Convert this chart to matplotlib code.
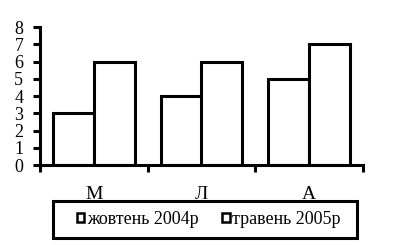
import matplotlib.pyplot as plt
import numpy as np
from matplotlib.patches import Patch, Rectangle
from matplotlib.ticker import FixedLocator

plt.rcParams['font.family'] = ['Liberation Serif', 'DejaVu Serif']

categories = ["М", "Л", "А"]
oct_2004 = [3, 4, 5]
may_2005 = [6, 6, 7]
series_names = ["жовтень 2004р", "травень 2005р"]

fig = plt.figure(figsize=(3.98, 2.45), dpi=100)
ax = fig.add_axes([40 / 398, 1 - 165 / 245, 323 / 398, 138 / 245])

x = np.arange(len(categories))
w = 0.38
lw = 2.2
ax.bar(x - w / 2, oct_2004, w, facecolor='white', edgecolor='black', linewidth=lw)
ax.bar(x + w / 2, may_2005, w, facecolor='white', edgecolor='black', linewidth=lw)

ax.set_xlim(-0.5, len(categories) - 0.5)
ax.set_ylim(0, 8)
ax.set_yticks(range(0, 9))
ax.tick_params(axis='y', direction='out', length=5, width=lw, pad=7, labelsize=13)

ax.set_xticks(x)
ax.set_xticklabels(categories)
ax.tick_params(axis='x', which='major', length=0, pad=15, labelsize=14)
ax.xaxis.set_minor_locator(FixedLocator(np.arange(-0.5, len(categories), 1.0)))
ax.tick_params(axis='x', which='minor', direction='out', length=5, width=lw)

for side in ('top', 'right'):
    ax.spines[side].set_visible(False)
for side in ('left', 'bottom'):
    ax.spines[side].set_linewidth(lw)

# legend box drawn separately so its size matches the original
fig.add_artist(Rectangle((53 / 398, 1 - 238 / 245), 304 / 398, 37 / 245,
                         transform=fig.transFigure, facecolor='white',
                         edgecolor='black', linewidth=2.2))

handles = [Patch(facecolor='white', edgecolor='black', linewidth=1.8) for _ in series_names]
fig.legend(handles, series_names, loc='center',
           bbox_to_anchor=(209 / 398, 1 - 219.5 / 245), ncol=2,
           fontsize=13, frameon=False,
           handlelength=0.4, handleheight=0.4, handletextpad=0.15,
           columnspacing=1.3, borderpad=0.2)

fig.savefig('out.png', dpi=100)
